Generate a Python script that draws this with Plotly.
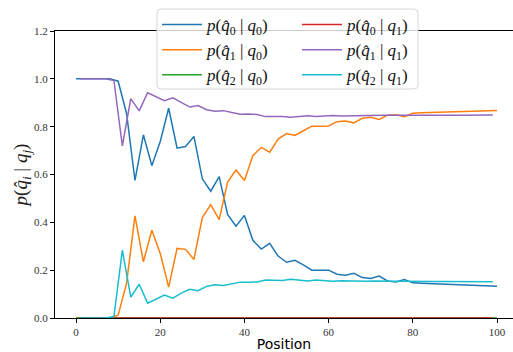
import plotly.graph_objects as go

# ---- data ----
pos_q0 = list(range(0, 101, 2))   # 0,2,...,100
pos_q1 = list(range(1, 100, 2))   # 1,3,...,99

p_q0_given_q0 = [1.0, 1.0, 1.0, 1.0, 1.0, 0.99, 0.855, 0.575, 0.766, 0.637,
                 0.738, 0.877, 0.71, 0.717, 0.759, 0.582, 0.53, 0.591, 0.433, 0.384,
                 0.429, 0.325, 0.288, 0.312, 0.259, 0.233, 0.241, 0.222, 0.20, 0.20,
                 0.20, 0.183, 0.179, 0.187, 0.169, 0.165, 0.175, 0.155, 0.151, 0.161,
                 0.147, 0.145, 0.144, 0.142, 0.140, 0.138, 0.138, 0.137, 0.135, 0.134,
                 0.133]
p_q1_given_q0 = [0.0, 0.0, 0.0, 0.0, 0.0, 0.012, 0.145, 0.427, 0.235, 0.367,
                 0.27, 0.129, 0.291, 0.287, 0.245, 0.42, 0.474, 0.411, 0.568, 0.619,
                 0.575, 0.679, 0.713, 0.693, 0.748, 0.771, 0.763, 0.783, 0.802, 0.802,
                 0.803, 0.821, 0.824, 0.816, 0.835, 0.839, 0.830, 0.848, 0.850, 0.842,
                 0.856, 0.858, 0.859, 0.860, 0.862, 0.864, 0.864, 0.865, 0.867, 0.867,
                 0.868]
p_q2_given_q0 = [0.0] * 51

p_q0_given_q1 = [0.0] * 50
p_q1_given_q1 = [1.0, 1.0, 1.0, 1.0, 0.993, 0.72, 0.917, 0.866, 0.942, 0.924,
                 0.909, 0.921, 0.90, 0.882, 0.888, 0.871, 0.864, 0.867, 0.859, 0.852,
                 0.853, 0.851, 0.842, 0.843, 0.843, 0.839, 0.842, 0.846, 0.842, 0.844,
                 0.847, 0.845, 0.846, 0.848, 0.847, 0.847, 0.848, 0.848, 0.847, 0.848,
                 0.848, 0.848, 0.847, 0.848, 0.848, 0.848, 0.849, 0.848, 0.849, 0.849]
p_q2_given_q1 = [0.0, 0.0, 0.0, 0.0, 0.006, 0.284, 0.087, 0.141, 0.062, 0.08,
                 0.096, 0.083, 0.104, 0.12, 0.114, 0.132, 0.139, 0.136, 0.143, 0.15,
                 0.149, 0.151, 0.159, 0.158, 0.157, 0.162, 0.158, 0.155, 0.159, 0.157,
                 0.154, 0.156, 0.155, 0.153, 0.154, 0.155, 0.153, 0.154, 0.154, 0.153,
                 0.154, 0.154, 0.153, 0.153, 0.153, 0.153, 0.152, 0.152, 0.152, 0.152]

labels = [
    "<i>p</i>(<i>q̂</i><sub>0</sub> | <i>q</i><sub>0</sub>)",
    "<i>p</i>(<i>q̂</i><sub>1</sub> | <i>q</i><sub>0</sub>)",
    "<i>p</i>(<i>q̂</i><sub>2</sub> | <i>q</i><sub>0</sub>)",
    "<i>p</i>(<i>q̂</i><sub>0</sub> | <i>q</i><sub>1</sub>)",
    "<i>p</i>(<i>q̂</i><sub>1</sub> | <i>q</i><sub>1</sub>)",
    "<i>p</i>(<i>q̂</i><sub>2</sub> | <i>q</i><sub>1</sub>)",
]
colors = ["#1f77b4", "#ff7f0e", "#2ca02c", "#d62728", "#9467bd", "#17becf"]
x_ticks = [0, 20, 40, 60, 80, 100]
y_ticks = [0.0, 0.2, 0.4, 0.6, 0.8, 1.0, 1.2]

W, H = 513, 352
ML, MR, MT, MB = 55, 0, 31, 34
PW, PH = W - ML - MR, H - MT - MB

def px(x):
    return (x - ML) / PW

def py(y):
    return (H - MB - y) / PH

serif = "Liberation Serif"

fig = go.Figure()
series = [
    (pos_q0, p_q0_given_q0, "legend"),
    (pos_q0, p_q1_given_q0, "legend"),
    (pos_q0, p_q2_given_q0, "legend"),
    (pos_q1, p_q0_given_q1, "legend2"),
    (pos_q1, p_q1_given_q1, "legend2"),
    (pos_q1, p_q2_given_q1, "legend2"),
]
for (xs, ys, lg), name, c in zip(series, labels, colors):
    fig.add_trace(go.Scatter(x=xs, y=ys, mode="lines", name=name, legend=lg,
                             line=dict(color=c, width=1.5), cliponaxis=False))

# rounded legend frame
x0, x1, y0, y1, r = px(157), px(418), py(89), py(9), 4
rx, ry = r / PW, r / PH
path = (f"M{x0+rx},{y1} L{x1-rx},{y1} Q{x1},{y1} {x1},{y1-ry} "
        f"L{x1},{y0+ry} Q{x1},{y0} {x1-rx},{y0} L{x0+rx},{y0} "
        f"Q{x0},{y0} {x0},{y0+ry} L{x0},{y1-ry} Q{x0},{y1} {x0+rx},{y1} Z")
fig.add_shape(type="path", path=path, xref="paper", yref="paper",
              fillcolor="rgba(255,255,255,0.8)", line=dict(color="#d6d6d6", width=1),
              layer="above")

legend_common = dict(bgcolor="rgba(0,0,0,0)", borderwidth=0, xanchor="left",
                     yanchor="top", font=dict(family=serif, size=17, color="#111"),
                     tracegroupgap=0, itemwidth=40)
fig.update_layout(
    width=W, height=H,
    margin=dict(l=ML, r=MR, t=MT, b=MB),
    paper_bgcolor="white", plot_bgcolor="white",
    showlegend=True,
    legend=dict(x=px(157), y=py(7), **legend_common),
    legend2=dict(x=px(297), y=py(7), **legend_common),
    xaxis=dict(range=[-5, 103.8], tickvals=x_ticks, ticktext=[str(v) for v in x_ticks],
               showgrid=False, zeroline=False, showline=True, linecolor="black",
               linewidth=1, mirror=True, ticks="outside", ticklen=4, tickcolor="black",
               tickfont=dict(family=serif, size=11, color="#333"), layer="below traces",
               title=dict(text="Position", standoff=2,
                          font=dict(family="DejaVu Sans", size=14, color="black"))),
    yaxis=dict(range=[0, 1.2], tickvals=y_ticks, ticktext=[f"{v:.1f}" for v in y_ticks],
               showgrid=False, zeroline=False, showline=True, linecolor="black",
               linewidth=1, ticks="outside", ticklen=4, tickcolor="black",
               tickfont=dict(family=serif, size=11, color="#333"), layer="below traces",
               title=dict(text="<i>p</i>(<i>q̂</i><sub><i>i</i></sub> | <i>q</i><sub><i>j</i></sub>)",
                          standoff=1, font=dict(family=serif, size=19, color="#222"))),
)

fig.write_html("out.html")
